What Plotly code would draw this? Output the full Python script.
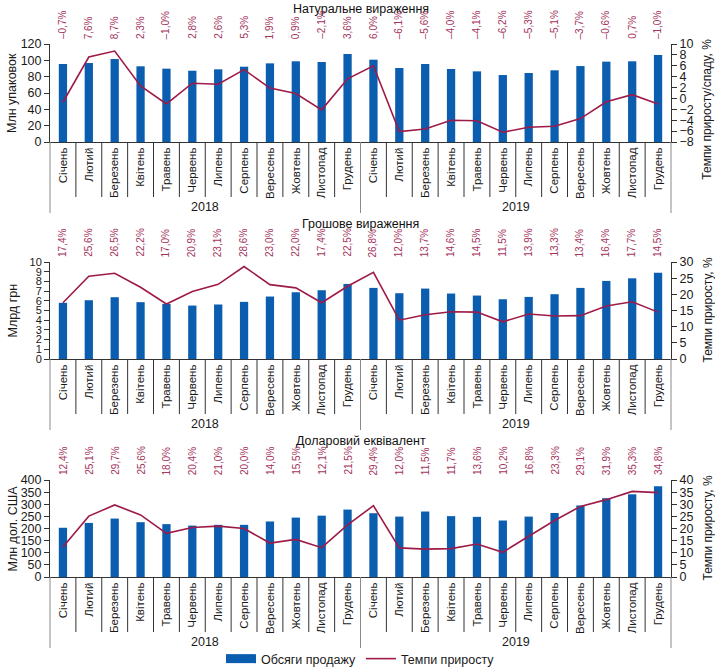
import plotly.graph_objects as go

months = ["Січень", "Лютий", "Березень", "Квітень", "Травень", "Червень",
          "Липень", "Серпень", "Вересень", "Жовтень", "Листопад", "Грудень"]
years = ["2018", "2019"]

# Panel 1: Натуральне вираження
units_vol = [95.5, 96.7, 101.6, 92.7, 89.8, 87.3, 89.0, 92.2, 96.3, 98.8, 98.0, 107.8,
             100.8, 90.6, 95.5, 89.4, 86.5, 82.0, 84.5, 87.8, 93.0, 98.4, 98.8, 106.5]
units_growth = [-0.7, 7.6, 8.7, 2.3, -1.0, 2.8, 2.6, 5.3, 1.9, 0.9, -2.1, 3.6,
                6.0, -6.1, -5.6, -4.0, -4.1, -6.2, -5.3, -5.1, -3.7, -0.6, 0.7, -1.0]

# Panel 2: Грошове вираження
uah_vol = [5.79, 6.06, 6.37, 5.86, 5.68, 5.51, 5.62, 5.89, 6.44, 6.88, 7.09, 7.74,
           7.33, 6.78, 7.26, 6.75, 6.54, 6.16, 6.40, 6.68, 7.33, 8.05, 8.32, 8.90]
uah_growth = [17.4, 25.6, 26.5, 22.2, 17.0, 20.9, 23.1, 28.6, 23.0, 22.0, 17.4, 22.5,
              26.8, 12.0, 13.7, 14.6, 14.5, 11.5, 13.9, 13.3, 13.4, 16.4, 17.7, 14.5]

# Panel 3: Доларовий еквівалент
usd_vol = [203, 223, 241, 226, 218, 212, 215, 215, 229, 245, 253, 278,
           263, 249, 270, 251, 248, 233, 249, 264, 295, 325, 341, 374]
usd_growth = [12.4, 25.1, 29.7, 25.6, 18.0, 20.4, 21.0, 20.0, 14.0, 15.5, 12.1, 21.5,
              29.4, 12.0, 11.5, 11.7, 13.6, 10.2, 16.8, 23.3, 29.1, 31.9, 35.3, 34.8]

panel_titles = ["Натуральне вираження", "Грошове вираження", "Доларовий еквівалент"]
left_titles = ["Млн упаковок", "Млрд грн", "Млн дол. США"]
right_titles = ["Темпи приросту/спаду, %", "Темпи приросту, %", "Темпи приросту, %"]
legend_names = ["Обсяги продажу", "Темпи приросту"]
left_ranges = [[0, 120], [0, 10], [0, 400]]
left_dticks = [20, 1, 50]
right_ranges = [[-8, 10], [0, 30], [0, 40]]
right_dticks = [2, 5, 5]

BAR = "#0B5EAF"
LINE = "#9E1B47"
LABEL = "#A3345C"
FONT = "Liberation Sans, Arial, sans-serif"
NARROW = "Liberation Sans Narrow, Arial Narrow, Liberation Sans, Arial, sans-serif"

W, H = 715, 667
ML, MR = 50, 44
PW = W - ML - MR
# panel plot areas in pixels from top
panel_px = [(44, 142), (262, 359), (480, 577)]
title_px = [9, 224, 441]
left_font = [12.5, 11, 12.5]

n = len(months) * len(years)
idx = list(range(n))
ticktext = months * len(years)

vols = [units_vol, uah_vol, usd_vol]
grows = [units_growth, uah_growth, usd_growth]

fig = go.Figure()
layout = dict(
    width=W, height=H,
    margin=dict(l=ML, r=MR, t=0, b=0, autoexpand=False),
    paper_bgcolor="white", plot_bgcolor="white",
    font=dict(family=FONT, size=12, color="#1a1a1a"),
    bargap=0.68,
    showlegend=True,
    legend=dict(orientation="h", x=0.5, xanchor="center", y=1 - 659 / H, yanchor="middle",
                font=dict(size=12.5, family=FONT), itemwidth=30, tracegroupgap=0,
                bgcolor="rgba(0,0,0,0)"),
)

def fmt(v):
    s = f"{abs(v):.1f}".replace(".", ",") + "%"
    return ("–" + s) if v < 0 else s

annotations = []
shapes = []
for k in range(3):
    xa = "x" if k == 0 else f"x{k+1}"
    yl = f"y{2*k+1}" if k > 0 else "y"
    yr = f"y{2*k+2}"
    top, bot = panel_px[k]
    dom = [1 - bot / H, 1 - top / H]
    hpx = bot - top

    fig.add_trace(go.Bar(x=idx, y=vols[k], xaxis=xa, yaxis=yl, marker=dict(color=BAR, line=dict(width=0)),
                         name=legend_names[0], showlegend=False))
    if k == 0:
        # legend swatch for the bars (wide rectangle like the reference)
        fig.add_trace(go.Scatter(x=[None], y=[None], xaxis=xa, yaxis=yl, mode="lines",
                                 line=dict(color=BAR, width=9), name=legend_names[0],
                                 showlegend=True, hoverinfo="skip"))
    fig.add_trace(go.Scatter(x=idx, y=grows[k], xaxis=xa, yaxis=yr, mode="lines",
                             line=dict(color=LINE, width=1.6),
                             name=legend_names[1], showlegend=(k == 0)))

    xkey = "xaxis" if k == 0 else f"xaxis{k+1}"
    ylkey = "yaxis" if k == 0 else f"yaxis{2*k+1}"
    yrkey = f"yaxis{2*k+2}"
    layout[xkey] = dict(domain=[0, 1], anchor=yl, range=[-0.5, n - 0.5],
                        tickmode="array", tickvals=idx, ticktext=ticktext, tickangle=-90,
                        ticks="", showline=True, linecolor="#333", linewidth=1,
                        showgrid=False, zeroline=False, automargin=False,
                        tickfont=dict(size=11.5, family=FONT, color="#1a1a1a"))
    layout[ylkey] = dict(domain=dom, anchor=xa, range=left_ranges[k], dtick=left_dticks[k],
                         showline=True, linecolor="#333", linewidth=1, ticks="outside", ticklen=5,
                         tickcolor="#333", showgrid=False, zeroline=False, automargin=False,
                         tickfont=dict(size=left_font[k], family=FONT, color="#1a1a1a"))
    layout[yrkey] = dict(overlaying=yl, side="right", anchor=xa, range=right_ranges[k],
                         dtick=right_dticks[k], showline=True, linecolor="#333", linewidth=1,
                         ticks="outside", ticklen=5, tickcolor="#333", showgrid=False,
                         zeroline=False, automargin=False,
                         tickfont=dict(size=12.5, family=FONT, color="#1a1a1a"))

    # panel title
    annotations.append(dict(text=panel_titles[k], xref="paper", yref="paper", x=0.5,
                            y=1 - title_px[k] / H, showarrow=False, xanchor="center",
                            yanchor="middle", font=dict(size=12.5, family=FONT, color="#111")))
    # axis titles
    annotations.append(dict(text=left_titles[k], xref="paper", yref=f"{yl} domain", x=-38 / PW,
                            y=0.5, textangle=-90, showarrow=False, xanchor="center", yanchor="middle",
                            font=dict(size=12.5, family=FONT, color="#1a1a1a")))
    annotations.append(dict(text=right_titles[k], xref="paper", yref=f"{yl} domain", x=1 + 36 / PW,
                            y=0.5 if k > 0 else 0.33, textangle=-90, showarrow=False,
                            xanchor="center", yanchor="middle",
                            font=dict(size=12, family=FONT, color="#1a1a1a")))
    # data labels
    for i, v in zip(idx, grows[k]):
        annotations.append(dict(text=fmt(v), xref=xa, yref=f"{yl} domain", x=i,
                                y=1 + 3 / hpx, textangle=-90, showarrow=False,
                                xanchor="center", yanchor="bottom",
                                font=dict(size=10, family=NARROW, color=LABEL)))
    # year labels
    for j, yr in enumerate(years):
        annotations.append(dict(text=yr, xref=f"{xa} domain", yref=f"{yl} domain",
                                x=(j + 0.5) / len(years), y=-65 / hpx, showarrow=False,
                                xanchor="center", yanchor="middle",
                                font=dict(size=12.5, family=FONT, color="#1a1a1a")))
    # month dividers and year dividers
    for b in range(n + 1):
        is_year = (b % len(months) == 0)
        shapes.append(dict(type="line", xref=f"{xa} domain", yref=f"{yl} domain",
                           x0=b / n, x1=b / n, y0=0, y1=-(71 if is_year else 55) / hpx,
                           line=dict(color="#8a8a8a" if is_year else "#333", width=1)))

layout["annotations"] = annotations
layout["shapes"] = shapes
fig.update_layout(**layout)
fig.write_html("out.html", config={"displayModeBar": False},
               post_script="document.body.style.margin='0';document.body.style.overflow='hidden';")
